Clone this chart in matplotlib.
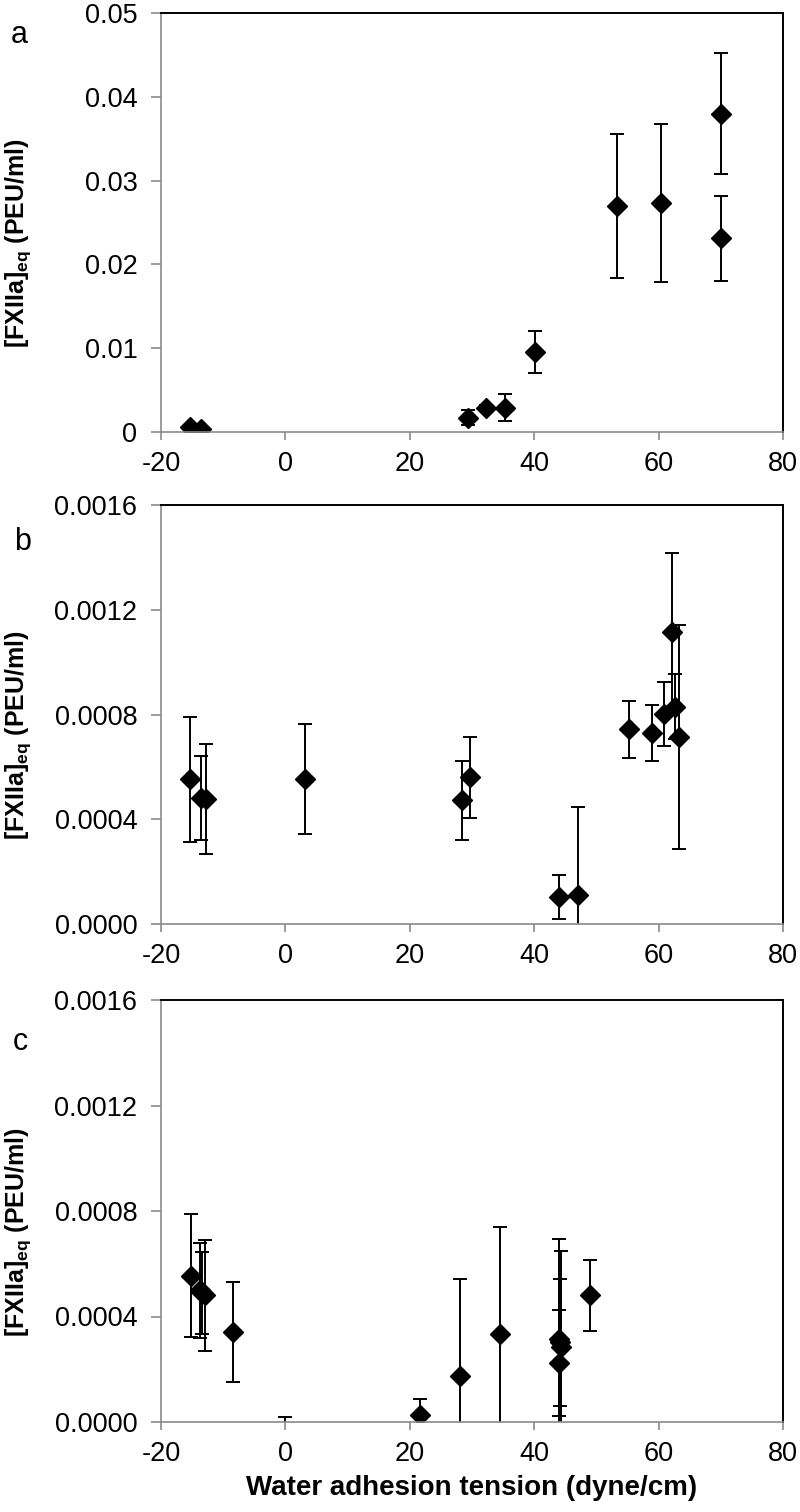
import matplotlib
matplotlib.use("Agg")
import matplotlib.pyplot as plt

plt.rcParams["font.family"] = ["Liberation Sans", "DejaVu Sans"]
plt.rcParams["mathtext.fontset"] = "custom"
plt.rcParams["mathtext.rm"] = "Liberation Sans:bold"
plt.rcParams["mathtext.it"] = "Liberation Sans:bold"
plt.rcParams["mathtext.bf"] = "Liberation Sans:bold"
plt.rcParams["axes.unicode_minus"] = False

# panel a: water adhesion tension vs [FXIIa]eq
a_x = [-15.4, -13.6, 29.4, 32.3, 35.3, 40.2, 53.3, 60.4, 70.1, 70.1]
a_y = [0.0006, 0.0004, 0.0017, 0.0029, 0.0029, 0.0096, 0.0270, 0.0273, 0.0380, 0.0231]
a_err = [0.0002, 0.0002, 0.0009, 0.0003, 0.0016, 0.0025, 0.0086, 0.0094, 0.0072, 0.0051]

# panel b
b_x = [-15.3, -13.5, -12.8, 3.2, 28.4, 29.6, 44.0, 47.1, 55.2, 58.9, 60.8, 62.2, 62.7, 63.2]
b_y = [0.000552, 0.000481, 0.000478, 0.000552, 0.000472, 0.000560, 0.000103, 0.000110,
       0.000743, 0.000729, 0.000802, 0.001116, 0.000830, 0.000714]
b_err = [0.00024, 0.00016, 0.00021, 0.00021, 0.00015, 0.000155, 0.000084, 0.000336,
         0.00011, 0.000106, 0.000124, 0.00030, 0.000125, 0.000429]

# panel c
c_x = [-15.1, -13.8, -13.4, -12.9, -8.4, 0.0, 21.6, 28.1, 34.5, 44.0, 44.3, 44.0, 44.2, 49.0]
c_y = [0.000554, 0.000500, 0.000490, 0.000480, 0.000341, -0.00005, 0.000027, 0.000173,
       0.000335, 0.000313, 0.000286, 0.000224, 0.000302, 0.000481]
c_err = [0.000233, 0.00018, 0.000155, 0.00021, 0.00019, 0.00007, 0.00006, 0.000368,
         0.000403, 0.00038, 0.000364, 0.0002, 0.00024, 0.000135]

a_ticks = [0, 0.01, 0.02, 0.03, 0.04, 0.05]
a_ticklabels = ["0", "0.01", "0.02", "0.03", "0.04", "0.05"]
bc_ticks = [0, 0.0004, 0.0008, 0.0012, 0.0016]
bc_ticklabels = ["0.0000", "0.0004", "0.0008", "0.0012", "0.0016"]
x_ticks = [-20, 0, 20, 40, 60, 80]
panel_letters = ["a", "b", "c"]
ylabel = r"[FXIIa]$_{\rm eq}$ (PEU/ml)"
xlabel = "Water adhesion tension (dyne/cm)"

W, H = 800, 1512
fig = plt.figure(figsize=(W / 100, H / 100), dpi=100)

GRAY = "#8a8a8a"
left, right = 161, 783
boxes = [(13, 432), (505, 924), (1000, 1422)]
letter_pos = [(19, 35), (23, 542), (20, 1042)]

panels = [
    (a_x, a_y, a_err, 0.05, a_ticks, a_ticklabels),
    (b_x, b_y, b_err, 0.0016, bc_ticks, bc_ticklabels),
    (c_x, c_y, c_err, 0.0016, bc_ticks, bc_ticklabels),
]

for i, (xs, ys, errs, ymax, yt, ytl) in enumerate(panels):
    top, bot = boxes[i]
    ax = fig.add_axes([left / W, 1 - bot / H, (right - left) / W, (bot - top) / H])
    ax.errorbar(xs, ys, yerr=errs, fmt="D", color="black", ms=10, mec="black",
                ecolor="black", elinewidth=1.4, capsize=5, capthick=1.4)
    ax.set_xlim(-20, 80)
    ax.set_ylim(0, ymax)
    ax.set_xticks(x_ticks)
    ax.set_yticks(yt)
    ax.set_yticklabels(ytl)
    for side in ("left", "bottom"):
        ax.spines[side].set_color(GRAY)
        ax.spines[side].set_linewidth(1.2)
    for side in ("top", "right"):
        ax.spines[side].set_color("black")
        ax.spines[side].set_linewidth(1.4)
    ax.tick_params(axis="both", direction="out", color=GRAY, width=1.2, labelsize=19.5)
    ax.tick_params(axis="y", length=7, pad=10)
    ax.tick_params(axis="x", length=6, pad=8)
    ax.set_ylabel(ylabel, fontsize=18, fontweight="bold")
    ax.yaxis.set_label_coords(-0.206, 0.45)
    if i == 2:
        ax.set_xlabel(xlabel, fontsize=20, fontweight="bold")
        ax.xaxis.set_label_coords(0.5, -0.125)
    lx, ly = letter_pos[i]
    fig.text(lx / W, 1 - ly / H, panel_letters[i], fontsize=22, ha="center", va="center")

fig.savefig("out.png", dpi=100)
